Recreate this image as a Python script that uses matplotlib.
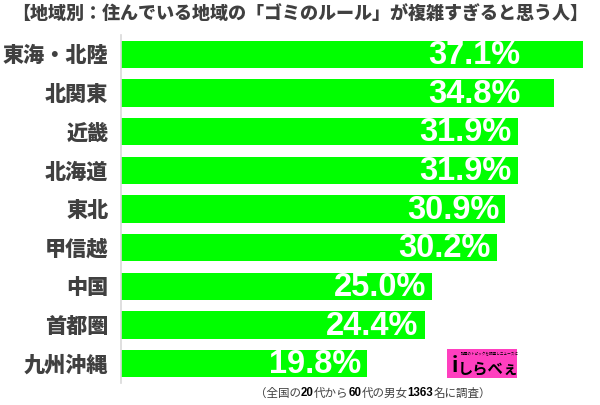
import matplotlib
matplotlib.use("Agg")
import matplotlib.pyplot as plt
from matplotlib.patches import Rectangle

plt.rcParams['font.family'] = ['Noto Sans CJK JP', 'DejaVu Sans']

categories = ["東海・北陸", "北関東", "近畿", "北海道", "東北", "甲信越", "中国", "首都圏", "九州沖縄"]
values = [37.1, 34.8, 31.9, 31.9, 30.9, 30.2, 25.0, 24.4, 19.8]
value_labels = ["37.1%", "34.8%", "31.9%", "31.9%", "30.9%", "30.2%", "25.0%", "24.4%", "19.8%"]
title = "【地域別：住んでいる地域の「ゴミのルール」が複雑すぎると思う人】"
note_parts = [("（全国の", "normal"), ("20", "bold"), ("代から", "normal"), ("60", "bold"),
              ("代の男女", "normal"), ("1363", "bold"), ("名に調査）", "normal")]

fig = plt.figure(figsize=(6, 4.05), dpi=100)
ax = fig.add_axes([121/600, 22/405, 474/600, 348/405])

y = list(range(len(categories)))
ax.barh(y, values, height=0.7, color="#00FF00", zorder=2)
ax.set_ylim(len(categories) - 0.5, -0.5)
ax.set_xlim(0, 38.1)
ax.set_yticks(y)
ax.set_yticklabels(categories, fontsize=15.2, fontweight='heavy', color='#404040')
ax.tick_params(axis='y', length=0, pad=9)
ax.set_xticks([])
for s in ['top', 'right', 'bottom']:
    ax.spines[s].set_visible(False)
ax.spines['left'].set_color('#d9d9d9')
ax.spines['left'].set_linewidth(1.2)

for yi, v, lab in zip(y, values, value_labels):
    xpos = min(v - 0.5, 32.1)
    ax.text(xpos, yi + 0.03, lab, ha='right', va='center', color='white',
            fontsize=23.5, fontweight='bold', family=['Liberation Sans', 'DejaVu Sans'], zorder=3)

fig.text(0.5, 1 - 14/405, title, ha='center', va='center', fontsize=13,
         fontweight='heavy', color='#404040')

# footnote with mixed weights
fig.canvas.draw()
renderer = fig.canvas.get_renderer()
xcur = 255
for txt, w in note_parts:
    t = fig.text(xcur/600, 1 - 393/405, txt, ha='left', va='center', fontsize=8.3,
                 fontweight=w, color='#000000' if w == 'bold' else '#404040',
                 family=['Liberation Sans', 'Noto Sans CJK JP'] if w == 'bold' else ['Noto Sans CJK JP', 'DejaVu Sans'])
    bb = t.get_window_extent(renderer=renderer)
    xcur += bb.width

# logo
fig.patches.append(Rectangle((447/600, 1 - 378/405), 70/600, 29/405, transform=fig.transFigure,
                             facecolor='#FF3FBF', edgecolor='none', zorder=5))
fig.text(455/600, 1 - 366/405, "i", ha='center', va='center', fontsize=15, fontweight='bold',
         color='black', zorder=6)
fig.text(488/600, 1 - 368/405, "しらべぇ", ha='center', va='center', fontsize=11,
         fontweight='bold', color='black', zorder=6)
fig.text(490/600, 1 - 354/405, "話題のトピックを調査しニュースに", ha='center', va='center', fontsize=2.6,
         color='black', zorder=6)

fig.savefig("out.png", dpi=100, facecolor='white')
